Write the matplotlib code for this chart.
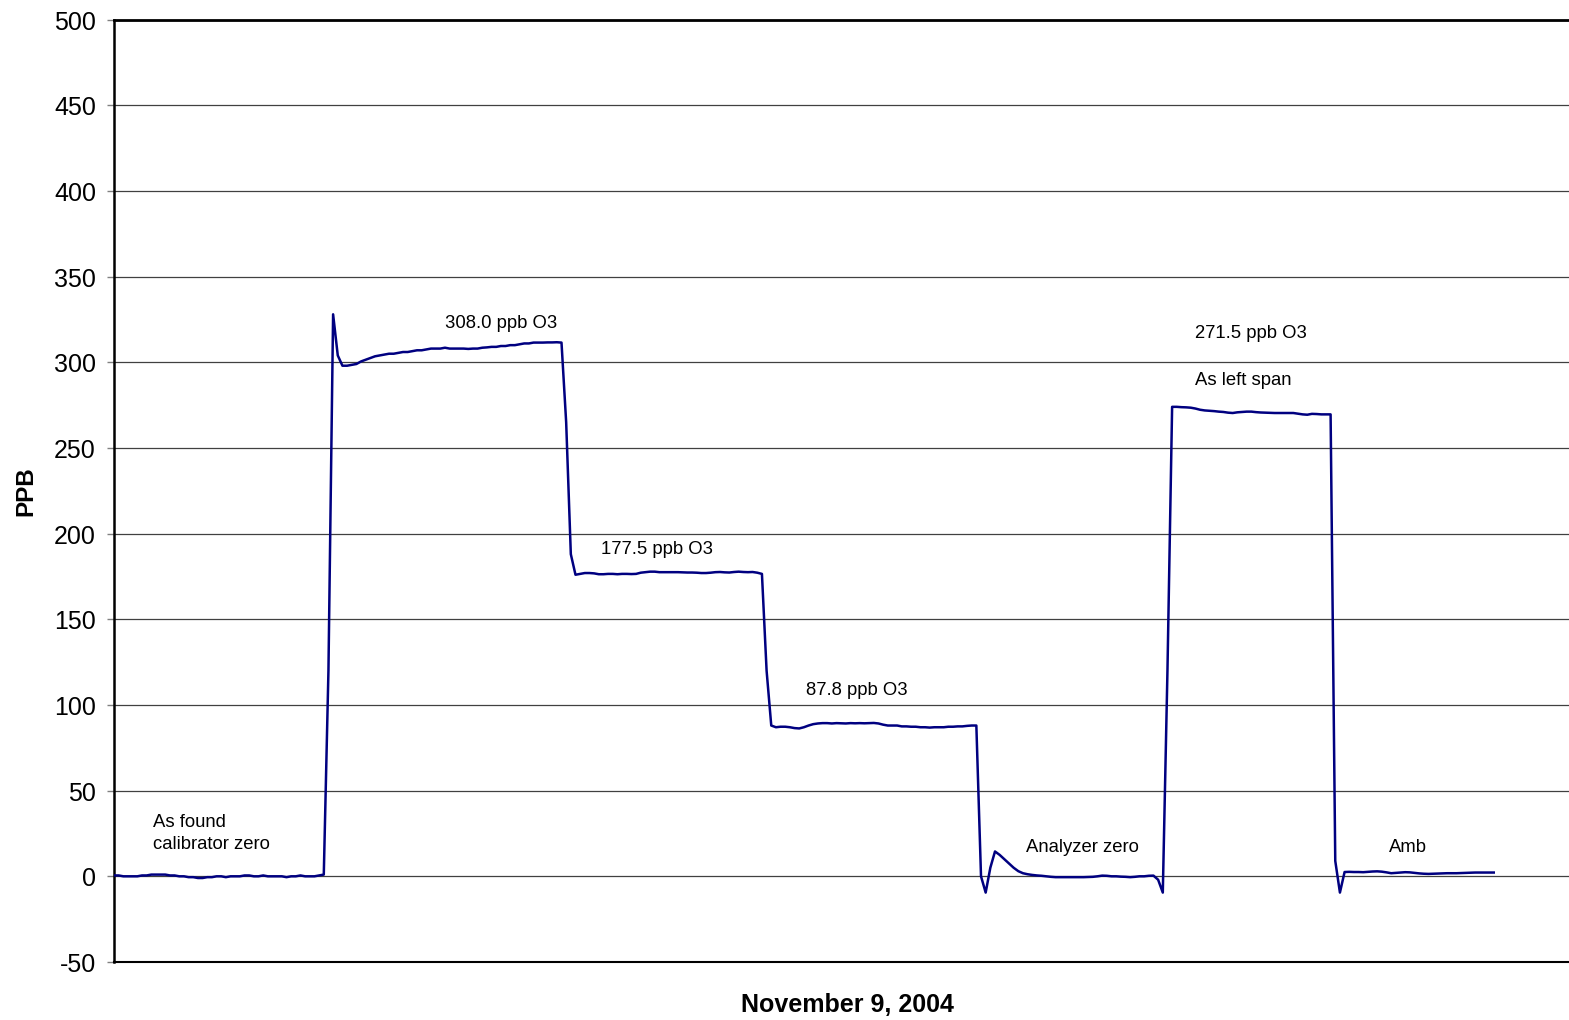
import matplotlib
matplotlib.use("Agg")
import matplotlib.pyplot as plt
import numpy as np

plt.rcParams['font.family'] = ['Liberation Sans', 'DejaVu Sans']
plt.rcParams['axes.unicode_minus'] = False

# ozone readings (ppb), one value per sample, split by calibration step
zero_found = [0.5, 0.5, 0, 0, 0, 0, 0.5, 0.5, 1, 1,
              1, 1, 0.5, 0.5, 0, 0, -0.5, -0.5, -1, -1,
              -0.5, -0.5, 0, 0, -0.5, 0, 0, 0, 0.5, 0.5,
              0, 0, 0.5, 0, 0, 0, 0, -0.5, 0, 0,
              0.5, 0, 0, 0, 0.5, 1]
rise_1 = [120]
span_308 = [328, 304, 298, 298, 298.5, 299, 300.5, 301.5, 302.5, 303.5,
            304, 304.5, 305, 305, 305.5, 306, 306, 306.5, 307, 307,
            307.5, 308, 308, 308, 308.5, 308, 308, 308, 308, 307.8,
            308, 308, 308.5, 308.7, 309, 309, 309.5, 309.5, 310, 310,
            310.5, 311, 311, 311.5, 311.5, 311.5, 311.6, 311.6, 311.7, 311.5]
fall_1 = [265, 188]
span_177 = [176, 176.5, 177, 177, 176.8, 176.3, 176.3, 176.5, 176.5, 176.3,
            176.5, 176.5, 176.4, 176.5, 177.2, 177.5, 177.8, 177.8, 177.5, 177.5,
            177.5, 177.5, 177.5, 177.4, 177.3, 177.3, 177.2, 177, 177, 177.2,
            177.5, 177.6, 177.4, 177.3, 177.6, 177.8, 177.6, 177.5, 177.6, 177.2,
            176.5]
fall_2 = [120]
span_88 = [88, 87, 87.3, 87.3, 87, 86.5, 86.3, 87, 88, 88.8,
           89.2, 89.4, 89.4, 89.2, 89.4, 89.3, 89.2, 89.4, 89.3, 89.4,
           89.3, 89.4, 89.5, 89.2, 88.5, 88, 88, 88, 87.5, 87.5,
           87.3, 87.3, 87, 87, 86.8, 87, 87, 87, 87.3, 87.3,
           87.5, 87.5, 87.8, 88, 88]
zero_analyzer = [0, -9.5, 5, 14.5, 12.5, 10, 7.5, 5, 3, 1.8,
                 1.2, 0.8, 0.5, 0.3, 0, -0.3, -0.5, -0.5, -0.5, -0.5,
                 -0.5, -0.5, -0.5, -0.4, -0.3, 0, 0.4, 0.3, 0, 0,
                 -0.2, -0.3, -0.5, -0.3, 0, 0, 0.3, 0.4, -2, -9.5]
rise_2 = [120]
span_271 = [274, 274, 273.8, 273.7, 273.5, 273, 272.3, 271.9, 271.7, 271.5,
            271.2, 271, 270.6, 270.4, 270.8, 271, 271.2, 271.2, 270.9, 270.7,
            270.6, 270.5, 270.4, 270.4, 270.4, 270.4, 270.4, 270, 269.6, 269.4,
            269.9, 269.8, 269.6, 269.6, 269.6]
ambient = [9, -9.5, 2.5, 2.6, 2.5, 2.5, 2.4, 2.6, 2.8, 2.9,
           2.7, 2.3, 1.8, 2, 2.2, 2.4, 2.3, 2, 1.7, 1.5,
           1.4, 1.5, 1.6, 1.7, 1.8, 1.8, 1.8, 1.9, 2, 2.1,
           2.2, 2.2, 2.2, 2.2, 2.2]

ppb = np.array(zero_found + rise_1 + span_308 + fall_1 + span_177 + fall_2
               + span_88 + zero_analyzer + rise_2 + span_271 + ambient)
sample = np.arange(len(ppb))

# step labels: text, sample position, ppb position
labels = ["As found\ncalibrator zero", "308.0 ppb O3", "177.5 ppb O3", "87.8 ppb O3",
          "Analyzer zero", "271.5 ppb O3", "As left span", "Amb"]
label_x = [8.4, 71.0, 104.5, 148.5, 195.7, 232.0, 232.0, 273.6]
label_y = [25.0, 323.1, 191.2, 108.8, 17.3, 317.2, 289.8, 17.3]

W, H = 1569, 1020
fig = plt.figure(figsize=(W / 100 + 0.004, H / 100 + 0.004), dpi=100)
ax = fig.add_axes([114 / W, 58 / H, (1580 - 114) / W, (962 - 20) / H])

ax.plot(sample, ppb, color='#000080', linewidth=1.8, zorder=3)

for txt, x, y in zip(labels, label_x, label_y):
    ax.text(x, y, txt, fontsize=13.3, ha='left', va='center', linespacing=1.4)

ax.set_xlim(0, (1580 - 114) / 4.66)
ax.set_ylim(-50, 500)
ax.set_yticks(np.arange(-50, 501, 50))
ax.set_xticks([])
ax.tick_params(axis='y', labelsize=18, length=5, width=1, color='#808080', pad=8)
ax.yaxis.grid(True, color='#404040', linewidth=0.9)
ax.set_axisbelow(True)

ax.spines['right'].set_visible(False)
ax.spines['top'].set_linewidth(2)
ax.spines['left'].set_linewidth(1.8)
ax.spines['bottom'].set_linewidth(1.5)

ax.set_ylabel("PPB", fontsize=17.5, fontweight='bold', labelpad=12)
ax.set_xlabel("November 9, 2004", fontsize=18, fontweight='bold', labelpad=22)

fig.savefig("out.png", dpi=100)
